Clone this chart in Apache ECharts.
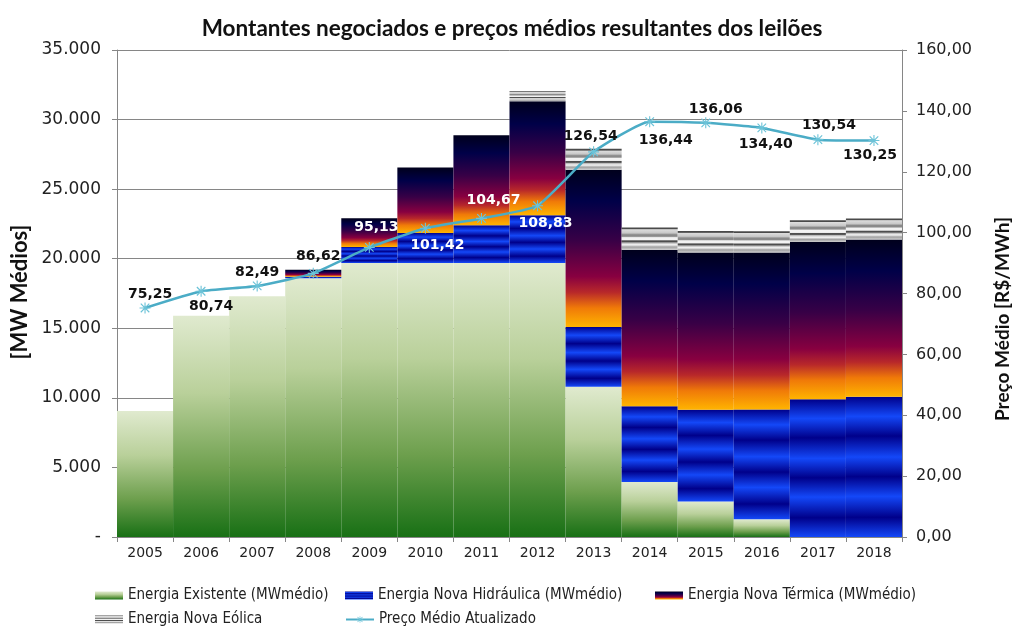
<!DOCTYPE html>
<html>
<head>
<meta charset="utf-8">
<script src="https://cdn.jsdelivr.net/npm/echarts@6/dist/echarts.min.js"></script>
<style>
html,body{margin:0;padding:0;background:#fff;}
#chart{width:1024px;height:638px;}
</style>
</head>
<body>
<div id="chart"></div>
<script>
// ---- data ----
const years = ['2005','2006','2007','2008','2009','2010','2011','2012','2013','2014','2015','2016','2017','2018'];
const existente = [9050, 15900, 17300, 18600, 19700, 19700, 19700, 19700, 10800, 3950, 2550, 1270, 0, 0];
const hidraulica = [0, 0, 0, 100, 1150, 2150, 2700, 3430, 4300, 5450, 6600, 7900, 9900, 10080];
const termica = [0, 0, 0, 500, 2050, 4700, 6480, 8190, 11300, 11250, 11300, 11280, 11300, 11300];
const eolica = [0, 0, 0, 0, 0, 0, 0, 720, 1500, 1600, 1550, 1530, 1560, 1510];
const preco = [75.25, 80.74, 82.49, 86.62, 95.13, 101.42, 104.67, 108.83, 126.54, 136.44, 136.06, 134.40, 130.54, 130.25];
const leftTicks = { min: 0, max: 35000, interval: 5000 };
const rightTicks = { min: 0, max: 160, interval: 20 };

// ---- styles (label placement relative to each point) ----
const labelOffsets = [[5,-14],[10,15],[0,-14],[5,-17],[7,-20],[12,17],[12,-18],[8,18],[-3,-15],[16,19],[10,-14],[4,16],[11,-14],[-4,15]];
const labelColors = ['#111','#111','#111','#111','#fff','#fff','#fff','#fff','#111','#111','#111','#111','#111','#111'];

function vgrad(stops){
  return new echarts.graphic.LinearGradient(0,0,0,1, stops.map(s=>({offset:s[0], color:s[1]})));
}
const gExist = vgrad([[0,'#e0eacf'],[0.35,'#b9d09a'],[0.7,'#6d9f4d'],[1,'#187015']]);
const gHidro = vgrad([[0,'#00008a'],[0.14,'#1448f8'],[0.28,'#00008a'],[0.43,'#1448f8'],[0.57,'#00008a'],[0.71,'#1448f8'],[0.86,'#00008a'],[1,'#1448f8']]);
const gTerm = vgrad([[0,'#00001c'],[0.2,'#000048'],[0.45,'#380046'],[0.68,'#880040'],[0.78,'#b8282a'],[0.88,'#f07a08'],[1,'#ffb400']]);
const gEol = vgrad([[0,'#4a4a4a'],[0.07,'#4a4a4a'],[0.1,'#dcdcdc'],[0.25,'#c8c8c8'],[0.33,'#8a8a8a'],[0.4,'#8a8a8a'],[0.46,'#f2f2f2'],[0.56,'#f2f2f2'],[0.6,'#4e4e4e'],[0.65,'#4e4e4e'],[0.69,'#b4b4b4'],[0.78,'#f6f6f6'],[0.88,'#a0a0a0'],[1,'#d0d0d0']]);

const starPath = 'path://M9,0L11,0L11,20L9,20Z M1.5,3L3,1.5L18.5,17L17,18.5Z M17,1.5L18.5,3L3,18.5L1.5,17Z M0,9L20,9L20,11L0,11Z';

const chart = echarts.init(document.getElementById('chart'), null, {renderer:'canvas'});
const axisFont = 'DejaVu Sans';
const legendText = {fontFamily:'DejaVu Sans Condensed, Liberation Sans Narrow, DejaVu Sans', fontSize:15, color:'#222'};
function leg(name, left, top, icon){
  return {data:[icon?{name:name, icon:icon}:name], left:left, top:top, orient:'horizontal', itemWidth:28, itemHeight:8, itemGap:4, textStyle:legendText, selectedMode:false, padding:0};
}
const option = {
  animation:false,
  backgroundColor:'#fff',
  title:{text:'Montantes negociados e preços médios resultantes dos leilões', left:'center', top:12,
    textStyle:{fontFamily:'Lato', fontWeight:'bold', fontSize:22.5, color:'#111'}},
  grid:{left:117, right:122, top:50, bottom:101},
  legend:[
    leg('Energia Existente (MWmédio)', 95, 588, 'rect'),
    leg('Energia Nova Hidráulica (MWmédio)', 345, 588, 'rect'),
    leg('Energia Nova Térmica (MWmédio)', 655, 588, 'rect'),
    leg('Energia Nova Eólica', 95, 612, 'rect'),
    leg('Preço Médio Atualizado', 345, 612)
  ],
  graphic:[
    {type:'text', x:20, y:292, rotation:Math.PI/2, style:{text:'[MW Médios]', font:'bold 22px Lato', fill:'#111', textAlign:'center', textVerticalAlign:'middle'}},
    {type:'text', x:1003, y:319, rotation:Math.PI/2, style:{text:'Preço Médio [R$/MWh]', font:'bold 19px Lato', fill:'#111', textAlign:'center', textVerticalAlign:'middle'}}
  ],
  xAxis:{type:'category', data:years,
    axisLine:{show:true, lineStyle:{color:'#868686'}},
    axisTick:{show:true, alignWithLabel:false, length:5, lineStyle:{color:'#868686'}},
    axisLabel:{fontFamily:axisFont, fontSize:14, color:'#222', margin:9}},
  yAxis:[
    {type:'value', min:leftTicks.min, max:leftTicks.max, interval:leftTicks.interval, position:'left',
      axisLine:{show:true, lineStyle:{color:'#868686'}},
      axisTick:{show:true, length:5, lineStyle:{color:'#868686'}},
      splitLine:{show:true, lineStyle:{color:'#868686', width:1}},
      axisLabel:{fontFamily:axisFont, fontSize:17, color:'#222', margin:16,
        formatter:v=> v===0 ? '-' : v.toLocaleString('de-DE')}},
    {type:'value', min:rightTicks.min, max:rightTicks.max, interval:rightTicks.interval, position:'right',
      axisLine:{show:true, lineStyle:{color:'#868686'}},
      axisTick:{show:true, length:5, lineStyle:{color:'#868686'}},
      splitLine:{show:false},
      axisLabel:{fontFamily:axisFont, fontSize:16, color:'#222', margin:14,
        formatter:v=> v.toFixed(2).replace('.',',')}}
  ],
  series:[
    {name:'Energia Existente (MWmédio)', type:'bar', stack:'a', data:existente, barCategoryGap:'0%', itemStyle:{color:gExist}},
    {name:'Energia Nova Hidráulica (MWmédio)', type:'bar', stack:'a', data:hidraulica, itemStyle:{color:gHidro}},
    {name:'Energia Nova Térmica (MWmédio)', type:'bar', stack:'a', data:termica, itemStyle:{color:gTerm}},
    {name:'Energia Nova Eólica', type:'bar', stack:'a', data:eolica, itemStyle:{color:gEol}},
    {name:'Preço Médio Atualizado', type:'line', yAxisIndex:1, z:5, smooth:0.15,
      data:preco.map((v,i)=>({value:v, label:{offset:labelOffsets[i], color:labelColors[i]}})),
      symbol:starPath, symbolSize:11,
      lineStyle:{color:'#4bacc6', width:2.5},
      itemStyle:{color:'#6cc3d8'},
      label:{show:true, position:'inside', fontFamily:'DejaVu Sans', fontWeight:'bold', fontSize:14,
        formatter:p=> p.value.toFixed(2).replace('.',',')}}
  ]
};
chart.setOption(option);
</script>
</body>
</html>
